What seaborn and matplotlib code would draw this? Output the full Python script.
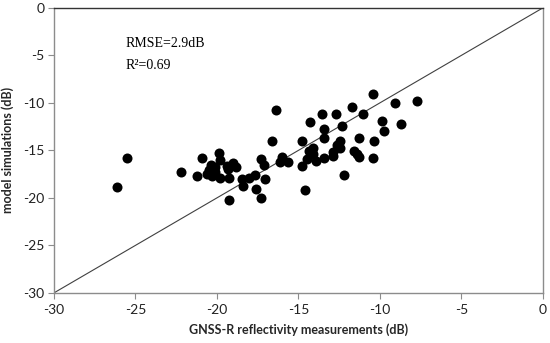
import matplotlib
matplotlib.use("Agg")
import matplotlib.pyplot as plt
import seaborn as sns
import pandas as pd

# Data (dB)
measured = [-26.1, -25.5, -22.2, -21.2, -20.9, -20.6, -20.5, -20.35, -20.3, -20.1,
            -20.1, -19.9, -19.8, -19.8, -19.4, -19.3, -19.25, -19.25, -19.0, -18.8,
            -18.45, -18.4, -18.0, -17.65, -17.6, -17.3, -17.05, -17.3, -17.1, -16.6,
            -16.35, -16.1, -16.0, -15.65, -14.8, -14.75, -14.6, -14.5, -14.35, -14.1,
            -14.1, -13.9, -14.3, -13.55, -13.45, -13.45, -13.4, -12.9, -12.85, -12.7,
            -12.65, -12.45, -12.45, -12.35, -12.2, -11.7, -11.6, -11.4, -11.25, -11.3,
            -11.05, -10.4, -10.35, -10.4, -9.85, -9.75, -9.05, -8.7, -7.7]
simulated = [-18.9, -15.8, -17.3, -17.7, -15.8, -17.5, -17.1, -16.5, -17.7, -16.7,
             -17.3, -15.3, -16.0, -17.9, -16.6, -17.0, -17.9, -20.2, -16.3, -16.7,
             -18.0, -18.7, -17.9, -17.6, -19.1, -20.0, -18.0, -15.95, -16.5, -14.0,
             -10.7, -16.2, -15.7, -16.25, -16.6, -14.0, -19.2, -15.9, -15.1, -14.7,
             -15.4, -16.1, -12.0, -11.2, -12.7, -13.7, -15.8, -15.2, -15.55, -11.2,
             -14.4, -14.0, -14.7, -12.4, -17.6, -10.4, -15.1, -15.4, -15.65, -13.7,
             -11.2, -9.05, -14.0, -15.8, -11.9, -13.0, -10.0, -12.2, -9.75]
one_to_one = [-30, 0]
x_ticks = [-30, -25, -20, -15, -10, -5, 0]
y_ticks = [-30, -25, -20, -15, -10, -5, 0]
x_label = "GNSS-R reflectivity measurements (dB)"
y_label = "model simulations (dB)"
stats_lines = ["RMSE=2.9dB", "R²=0.69"]

df = pd.DataFrame({"measured": measured, "simulated": simulated})

sns.set_style("white")
plt.rcParams["font.family"] = ["Lato", "DejaVu Sans"]

fig = plt.figure(figsize=(5.5, 3.43), dpi=100)
ax = fig.add_axes([0.098, 0.146, 0.889, 0.831])

ax.plot(one_to_one, one_to_one, color="#404040", lw=0.8, zorder=1)
sns.scatterplot(data=df, x="measured", y="simulated", ax=ax, color="black",
                s=52, edgecolor="black", linewidth=0, zorder=3, legend=False)

ax.set_xlim(-30, 0)
ax.set_ylim(-30, 0)
ax.set_xticks(x_ticks)
ax.set_yticks(y_ticks)
ax.set_xticklabels([str(t) for t in x_ticks])
ax.set_yticklabels([str(t) for t in y_ticks])
ax.tick_params(axis="both", direction="out", length=4, width=0.8, color="#8c8c8c",
               labelsize=10, labelcolor="#222222", pad=3)
ax.tick_params(axis="x", pad=4)
ax.tick_params(bottom=True, left=True)

for side in ["left", "right", "bottom"]:
    ax.spines[side].set_color("#8c8c8c")
    ax.spines[side].set_linewidth(1.0)
ax.spines["top"].set_color("#333333")
ax.spines["top"].set_linewidth(1.0)

ax.set_xlabel(x_label, fontsize=9, fontweight="bold", labelpad=5)
ax.set_ylabel(y_label, fontsize=9, fontweight="bold", labelpad=6)

ax.text(-25.6, -3.7, stats_lines[0], fontsize=10, family="Liberation Serif",
        va="center", ha="left", color="black")
ax.text(-25.6, -6.1, stats_lines[1], fontsize=10, family="Liberation Serif",
        va="center", ha="left", color="black")

fig.savefig("out.png", dpi=100)
